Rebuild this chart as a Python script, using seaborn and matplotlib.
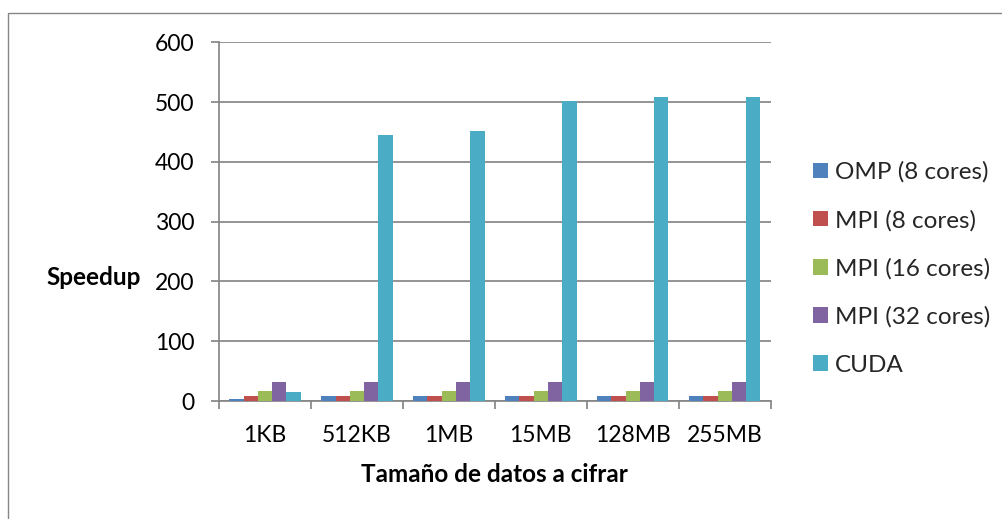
import matplotlib
matplotlib.use("Agg")
import matplotlib.pyplot as plt
import seaborn as sns
import pandas as pd
import numpy as np
from matplotlib.patches import Rectangle, Patch

categories = ["1KB", "512KB", "1MB", "15MB", "128MB", "255MB"]
series = ["OMP (8 cores)", "MPI (8 cores)", "MPI (16 cores)", "MPI (32 cores)", "CUDA"]
omp8 = [3, 8, 8, 8, 8, 8]
mpi8 = [8, 8, 8, 8, 8, 8]
mpi16 = [16, 16, 16, 16, 16, 16]
mpi32 = [32, 32, 32, 32, 32, 32]
cuda = [15, 445, 451, 501, 508, 508]
colors = ["#4F81BD", "#C0504D", "#9BBB59", "#8064A2", "#4BACC6"]
yticks = [0, 100, 200, 300, 400, 500, 600]

values = [omp8, mpi8, mpi16, mpi32, cuda]
rows = []
for s, vals in zip(series, values):
    for c, v in zip(categories, vals):
        rows.append({"Tamaño": c, "Serie": s, "Speedup": v})
df = pd.DataFrame(rows)

sns.set_theme(style="white")
plt.rcParams['font.family'] = ['Lato', 'DejaVu Sans']

W, H = 1003, 519
fig = plt.figure(figsize=(W / 100, H / 100), dpi=100)
ax = fig.add_axes([219 / W, 1 - 401 / H, (770.7 - 219) / W, (401 - 42.3) / H])

sns.barplot(data=df, x="Tamaño", y="Speedup", hue="Serie", order=categories,
            hue_order=series, palette=colors, width=0.776, gap=0, linewidth=0,
            saturation=1, ax=ax, legend=False, zorder=3)

grid_c = "#868686"
tick_fs = 16.5
lab_fs = 17.5
ax.set_ylim(0, 600)
ax.set_xlim(-0.5, len(categories) - 0.5)
ax.set_yticks(yticks)
ax.set_yticklabels([str(t) for t in yticks], fontsize=tick_fs, color="black")
ax.yaxis.grid(True, color=grid_c, linewidth=1.25, zorder=0)
ax.set_axisbelow(True)
for sp in ["top", "right"]:
    ax.spines[sp].set_visible(False)
for sp in ["left", "bottom"]:
    ax.spines[sp].set_color(grid_c)
    ax.spines[sp].set_linewidth(1.25)
ax.tick_params(axis="y", which="both", direction="out", length=5.8, width=1.25,
               color=grid_c, pad=12, left=True)
ax.set_xticks(range(len(categories)))
ax.set_xticklabels(categories, fontsize=tick_fs, color="black")
ax.set_xticks(np.arange(-0.5, len(categories), 1.0), minor=True)
ax.tick_params(axis="x", which="major", length=0, pad=17)
ax.tick_params(axis="x", which="minor", direction="out", length=5.8, width=1.25,
               color=grid_c, bottom=True)

ax.set_xlabel("Tamaño de datos a cifrar", fontsize=lab_fs, fontweight="bold", color="black")
ax.xaxis.set_label_coords(0.5, (401 - 474) / (401 - 42.3))
ax.xaxis.label.set_va("center")
ax.set_ylabel("Speedup", fontsize=lab_fs, fontweight="bold", color="black", rotation=0)
ax.yaxis.set_label_coords((93.5 - 219) / (770.7 - 219), (401 - 277) / (401 - 42.3))
ax.yaxis.label.set_va("center")
ax.yaxis.label.set_ha("center")

handles = [Patch(facecolor=c, edgecolor="none") for c in colors]
fig.legend(handles, series, loc="center left", bbox_to_anchor=(813 / W, 1 - 268.5 / H),
           frameon=False, fontsize=lab_fs, handlelength=0.6, handleheight=0.6,
           handletextpad=0.3, labelspacing=1.1, borderpad=0, borderaxespad=0)

fig.patches.append(Rectangle((8 / W, -0.1), 1.2, 1 - 12.5 / H + 0.1,
                             transform=fig.transFigure, fill=False,
                             edgecolor=grid_c, linewidth=1.0))

fig.savefig("out.png", dpi=100, facecolor="white")
